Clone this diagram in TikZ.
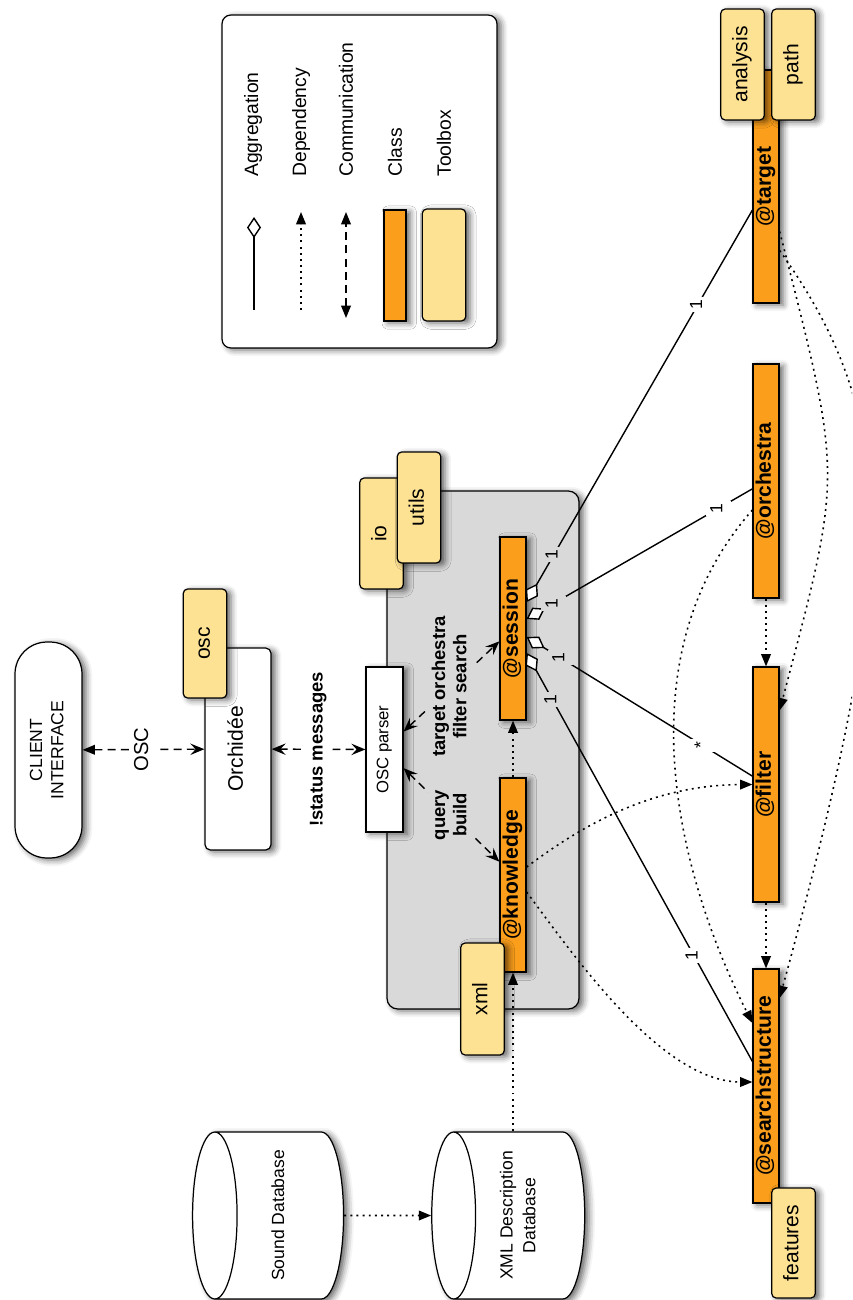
\documentclass[tikz,border=0pt]{standalone}
\usepackage{fontspec}
\setmainfont{Liberation Sans}
\usetikzlibrary{arrows.meta,calc,shapes.geometric,shadows.blur}

\definecolor{classorange}{RGB}{250,158,27}
\definecolor{toolyellow}{RGB}{254,226,148}
\definecolor{boxgray}{RGB}{217,217,217}

\newcommand{\vt}[1]{\rotatebox{90}{\begin{tabular}{@{}c@{}}#1\end{tabular}}}

\tikzset{
  soft shadow/.style={blur shadow={shadow xshift=2.4pt, shadow yshift=-1.2pt, shadow blur radius=3.5pt, shadow opacity=60}},
  box/.style={draw, line width=0.7pt, inner sep=0pt, soft shadow},
  classbox/.style={box, fill=classorange, minimum width=0.52cm, font=\fontsize{12}{14}\selectfont\bfseries},
  toolbox/.style={box, fill=toolyellow, rounded corners=2.5pt, minimum width=0.87cm, minimum height=2.22cm, font=\fontsize{12}{14}\selectfont},
  dbase/.style={box, shape=cylinder, shape border rotate=180, aspect=0.34, fill=white, minimum width=3.34cm, font=\fontsize{10}{13}\selectfont},
  keylabel/.style={rotate=90, anchor=west, inner sep=0pt, font=\fontsize{11}{13}\selectfont},
  lbl/.style={inner sep=1.5pt, font=\fontsize{10.5}{12}\selectfont\bfseries},
  mult/.style={inner sep=1.5pt, font=\fontsize{10}{11}\selectfont},
  barb/.tip={Stealth[length=8pt,width=6.5pt,inset=3pt]},
  tri/.tip={Triangle[length=7pt,width=5.5pt]},
  dep/.style={line width=0.9pt, dash pattern=on 1.1pt off 2.4pt, -tri},
  comm/.style={line width=0.8pt, dash pattern=on 4.5pt off 3pt, barb-barb},
  aggr/.style={line width=0.8pt, {Diamond[fill=white,length=12pt,width=8pt]}-},
}

\begin{document}
\begin{tikzpicture}[x=0.02cm, y=-0.02cm]
\clip (0,0) rectangle (852,1300);

% legend
\node[box, fill=white, rounded corners=5pt, minimum width=5.5cm, minimum height=6.66cm] (legend) at (359.5,181.5) {};
\draw[aggr] (254,217) -- (254,310);
\draw[dep] (301,310) -- (301,212);
\draw[comm, tri-tri] (346,318) -- (346,212);
\node[classbox, minimum width=0.44cm, minimum height=2.22cm] (classkey) at (395,265.5) {};
\node[toolbox, minimum height=2.24cm] (toolkey) at (444,265) {};
\node[keylabel] at (253,177) {Aggregation};
\node[keylabel] at (301,177) {Dependency};
\node[keylabel] at (346,177) {Communication};
\node[keylabel] at (395,177) {Class};
\node[keylabel] at (444,177) {Toolbox};

% client side
\node[box, fill=white, rounded corners=0.64cm, minimum width=1.34cm, minimum height=4.32cm, font=\fontsize{10}{12}\selectfont] (client) at (48.5,750) {\vt{CLIENT\\INTERFACE}};
\node[box, fill=white, rounded corners=3pt, minimum width=1.32cm, minimum height=4.04cm, font=\fontsize{12}{14}\selectfont] (orchidee) at (238,749) {\vt{Orchidée}};
\node[toolbox, minimum height=2.18cm] (osc) at (205,643.5) {\vt{osc}};

% core
\node[box, fill=boxgray, rounded corners=6pt, minimum width=3.84cm, minimum height=10.36cm] (core) at (483,750) {};
\node[toolbox] (io) at (381.5,533.5) {\vt{io}};
\node[toolbox] (utils) at (419,507.5) {\vt{utils}};
\node[box, fill=white, minimum width=0.74cm, minimum height=3.3cm, font=\fontsize{9.5}{11}\selectfont] (parser) at (384.5,749.5) {\vt{OSC parser}};
\node[classbox, minimum height=3.66cm] (session) at (513,628.5) {\vt{@session}};
\node[classbox, minimum height=3.88cm] (knowledge) at (513,875) {\vt{@knowledge}};
\node[toolbox, minimum height=2.24cm] (xml) at (482.5,999) {\vt{xml}};

% classes
\node[classbox, minimum height=4.66cm] (target) at (766,186.5) {\vt{@target}};
\node[toolbox] (analysis) at (742.5,64.5) {\vt{analysis}};
\node[toolbox] (path) at (793.5,64.5) {\vt{path}};
\node[classbox, minimum height=4.68cm] (orchestra) at (766,481) {\vt{@orchestra}};
\node[classbox, minimum height=4.7cm] (filter) at (766,784.5) {\vt{@filter}};
\node[classbox, minimum height=4.68cm] (search) at (766,1086) {\vt{@searchstructure}};
\node[toolbox, minimum height=2.2cm] (features) at (793.5,1243) {\vt{features}};

% databases
\node[dbase, minimum height=3.02cm] (sounddb) at (279.5,1215.5) {\vt{Sound Database}};
\node[dbase, minimum height=3.06cm] (xmldb) at (519.5,1215.5) {\vt{XML Description\\Database}};

\draw[comm, tri-barb] (client) -- node[fill=white, inner sep=1pt, font=\fontsize{11.5}{13}\selectfont] {\vt{OSC}} (orchidee);
\draw[comm] (orchidee) -- node[lbl, fill=white] {\vt{!status messages}} (parser);
\draw[comm] (parser) -- node[lbl, fill=boxgray] {\vt{query\\build}} (knowledge);
\draw[comm] (parser) -- node[lbl, fill=boxgray] {\vt{target orchestra\\filter search}} (session);

\draw[dep] (knowledge) -- (session);
\draw[dep] (xmldb.north -| knowledge) -- (knowledge);
\draw[dep] (sounddb) -- (xmldb);
\draw[dep] (orchestra) -- (filter);
\draw[dep] (filter) -- (search);
\draw[dep] ($(target.east)+(0,45)$) .. controls (843,480) and (843,470) .. ($(filter.east)+(0,-74)$);
\draw[dep] ($(target.east)+(0,64)$) .. controls (900,420) and (900,560) .. ($(search.east)+(0,-88)$);
\draw[dep] ($(orchestra.west)+(0,29)$) .. controls (620,660) and (680,880) .. ($(search.west)+(0,-63)$);
\draw[dep] ($(knowledge.east)+(0,-8)$) .. controls (580,827) and (650,785) .. (filter.west);
\draw[dep] ($(knowledge.east)+(0,17)$) .. controls (570,950) and (660,1082) .. ($(search.west)+(0,-4)$);

\draw[aggr] ($(session.east)+(0,-26.5)$) -- node[mult, fill=boxgray, pos=0.12] {\vt{1}} node[mult, fill=white, pos=0.76] {\vt{1}} (target);
\draw[aggr] ($(session.east)+(0,-9.5)$) -- node[mult, fill=boxgray, pos=0.12] {\vt{1}} node[mult, fill=white, pos=0.85] {\vt{1}} (orchestra);
\draw[aggr] ($(session.east)+(0,8.5)$) -- node[mult, fill=boxgray, pos=0.15] {\vt{1}} node[mult, fill=white, pos=0.78] {\vt{*}} (filter);
\draw[aggr] ($(session.east)+(0,24.5)$) -- node[mult, fill=boxgray, pos=0.115] {\vt{1}} node[mult, fill=white, pos=0.74] {\vt{1}} (search);
\end{tikzpicture}
\end{document}
